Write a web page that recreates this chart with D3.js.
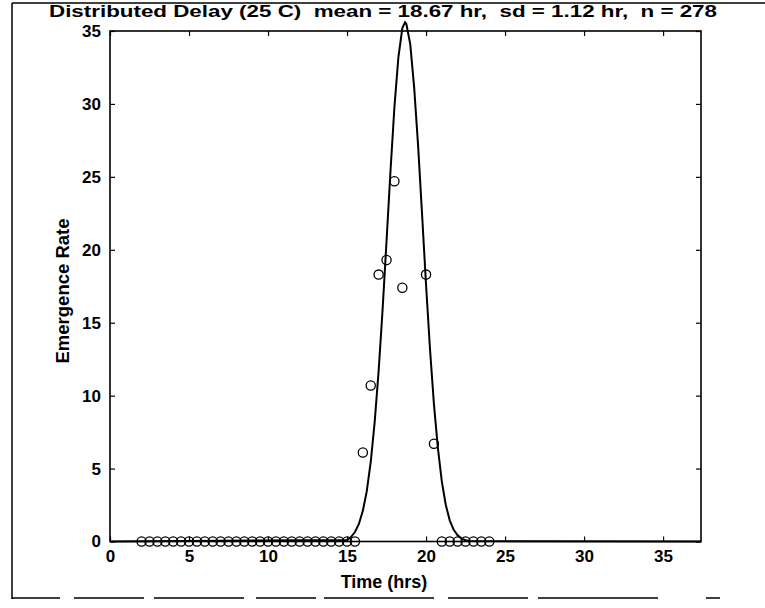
<!DOCTYPE html>
<html>
<head>
<meta charset="utf-8">
<script src="https://cdn.jsdelivr.net/npm/d3@7/dist/d3.min.js"></script>
<style>
  html, body { margin: 0; padding: 0; background: #fff; }
  svg { display: block; }
  text { font-family: "Liberation Sans", Arial, sans-serif; fill: #000; white-space: pre; }
</style>
</head>
<body>
<svg id="chart" width="765" height="608"></svg>
<script>
// ---- data ----
const titleText = "Distributed Delay (25 C)  mean = 18.67 hr,  sd = 1.12 hr,  n = 278";
const xLabel = "Time (hrs)";
const yLabel = "Emergence Rate";
const xTicks = [0, 5, 10, 15, 20, 25, 30, 35];
const yTicks = [0, 5, 10, 15, 20, 25, 30, 35];
const xDomain = [0, 37.4];
const yDomain = [0, 35];

// observed emergence (circles)
const obsTime = [2, 2.5, 3, 3.5, 4, 4.5, 5, 5.5, 6, 6.5, 7, 7.5, 8, 8.5, 9, 9.5,
                 10, 10.5, 11, 11.5, 12, 12.5, 13, 13.5, 14, 14.5, 15, 15.5,
                 16, 16.5, 17, 17.5, 18, 18.5, 20, 20.5,
                 21, 21.5, 22, 22.5, 23, 23.5, 24];
const obsRate = [0, 0, 0, 0, 0, 0, 0, 0, 0, 0, 0, 0, 0, 0, 0, 0,
                 0, 0, 0, 0, 0, 0, 0, 0, 0, 0, 0, 0,
                 6.1, 10.7, 18.3, 19.3, 24.7, 17.4, 18.3, 6.7,
                 0, 0, 0, 0, 0, 0, 0];

// model curve (solid line)
const curveTime = [0, 15, 15.25, 15.5, 15.75, 16, 16.25, 16.5, 16.75, 17, 17.25, 17.5, 17.75,
                   18, 18.25, 18.5, 18.67, 18.75, 19, 19.25, 19.5, 19.75, 20, 20.25, 20.5,
                   20.75, 21, 21.25, 21.5, 21.75, 22, 22.25, 22.5, 22.75, 37.4];
const curveRate = [0, 0.1, 0.3, 0.65, 1.2, 2.1, 3.45, 5.45, 8.2, 11.7, 15.9, 20.6, 25.4,
                   29.8, 33.2, 35.2, 35.6, 35.5, 34.1, 31.1, 27.1, 22.4, 17.6, 13.2, 9.4,
                   6.4, 4.1, 2.5, 1.45, 0.8, 0.43, 0.2, 0.09, 0.03, 0];

// ---- layout ----
const svg = d3.select("#chart");
const pL = 110, pR = 701, pT = 31, pB = 541.5;
const x = d3.scaleLinear().domain(xDomain).range([pL, pR]);
const y = d3.scaleLinear().domain(yDomain).range([pB, pT]);

// outer figure frame (scanned, partial)
svg.append("line").attr("x1", 12).attr("x2", 765).attr("y1", 3).attr("y2", 3)
  .attr("stroke", "#000").attr("stroke-width", 1.5);
svg.append("line").attr("x1", 12).attr("x2", 12).attr("y1", 3).attr("y2", 599)
  .attr("stroke", "#000").attr("stroke-width", 1.5);
svg.append("line").attr("x1", 12).attr("x2", 765).attr("y1", 598).attr("y2", 598)
  .attr("stroke", "#000").attr("stroke-width", 1.5)
  .attr("stroke-dasharray", "48,14,70,10,90,12,60,8,110,14,80,10,120");

// axes: inward ticks on all four sides
const tickFont = "bold 17px 'Liberation Sans', Arial, sans-serif";
const gx = svg.append("g").attr("transform", `translate(0,${pB})`)
  .call(d3.axisBottom(x).tickValues(xTicks).tickSizeInner(-5).tickSizeOuter(0).tickPadding(8).tickFormat(d3.format("d")));
const gxt = svg.append("g").attr("transform", `translate(0,${pT})`)
  .call(d3.axisTop(x).tickValues(xTicks).tickSizeInner(-5).tickSizeOuter(0).tickFormat(""));
const gy = svg.append("g").attr("transform", `translate(${pL},0)`)
  .call(d3.axisLeft(y).tickValues(yTicks).tickSizeInner(-5).tickSizeOuter(0).tickPadding(9).tickFormat(d3.format("d")));
const gyr = svg.append("g").attr("transform", `translate(${pR},0)`)
  .call(d3.axisRight(y).tickValues(yTicks).tickSizeInner(-5).tickSizeOuter(0).tickFormat(""));
[gx, gxt, gy, gyr].forEach(g => {
  g.select(".domain").remove();
  g.selectAll(".tick line").attr("stroke", "#000").attr("stroke-width", 1.2);
  g.selectAll("text").style("font", tickFont).attr("fill", "#000");
});

// axes box
svg.append("rect").attr("x", pL).attr("y", pT)
  .attr("width", pR - pL).attr("height", pB - pT)
  .attr("fill", "none").attr("stroke", "#000").attr("stroke-width", 1.6);

// model curve (its peak pokes slightly above the axes box, as in the reference)
const line = d3.line().x((d, i) => x(curveTime[i])).y(d => y(d));
svg.append("path").datum(curveRate)
  .attr("d", line)
  .attr("fill", "none").attr("stroke", "#000").attr("stroke-width", 2);

// observed circles
svg.append("g").selectAll("circle").data(obsRate).join("circle")
  .attr("cx", (d, i) => x(obsTime[i]))
  .attr("cy", d => y(d))
  .attr("r", 4.6)
  .attr("fill", "none").attr("stroke", "#000").attr("stroke-width", 1.3);

// title and labels
svg.append("text").attr("x", 383).attr("y", 17).attr("text-anchor", "middle")
  .attr("textLength", 668).attr("lengthAdjust", "spacingAndGlyphs")
  .style("font", "bold 17px 'Liberation Sans', Arial, sans-serif").text(titleText);
svg.append("text").attr("x", 384).attr("y", 588).attr("text-anchor", "middle")
  .style("font", "bold 18px 'Liberation Sans', Arial, sans-serif").text(xLabel);
svg.append("text")
  .attr("transform", `translate(69,291) rotate(-90)`)
  .attr("text-anchor", "middle")
  .style("font", "bold 18.5px 'Liberation Sans', Arial, sans-serif").text(yLabel);
</script>
</body>
</html>
